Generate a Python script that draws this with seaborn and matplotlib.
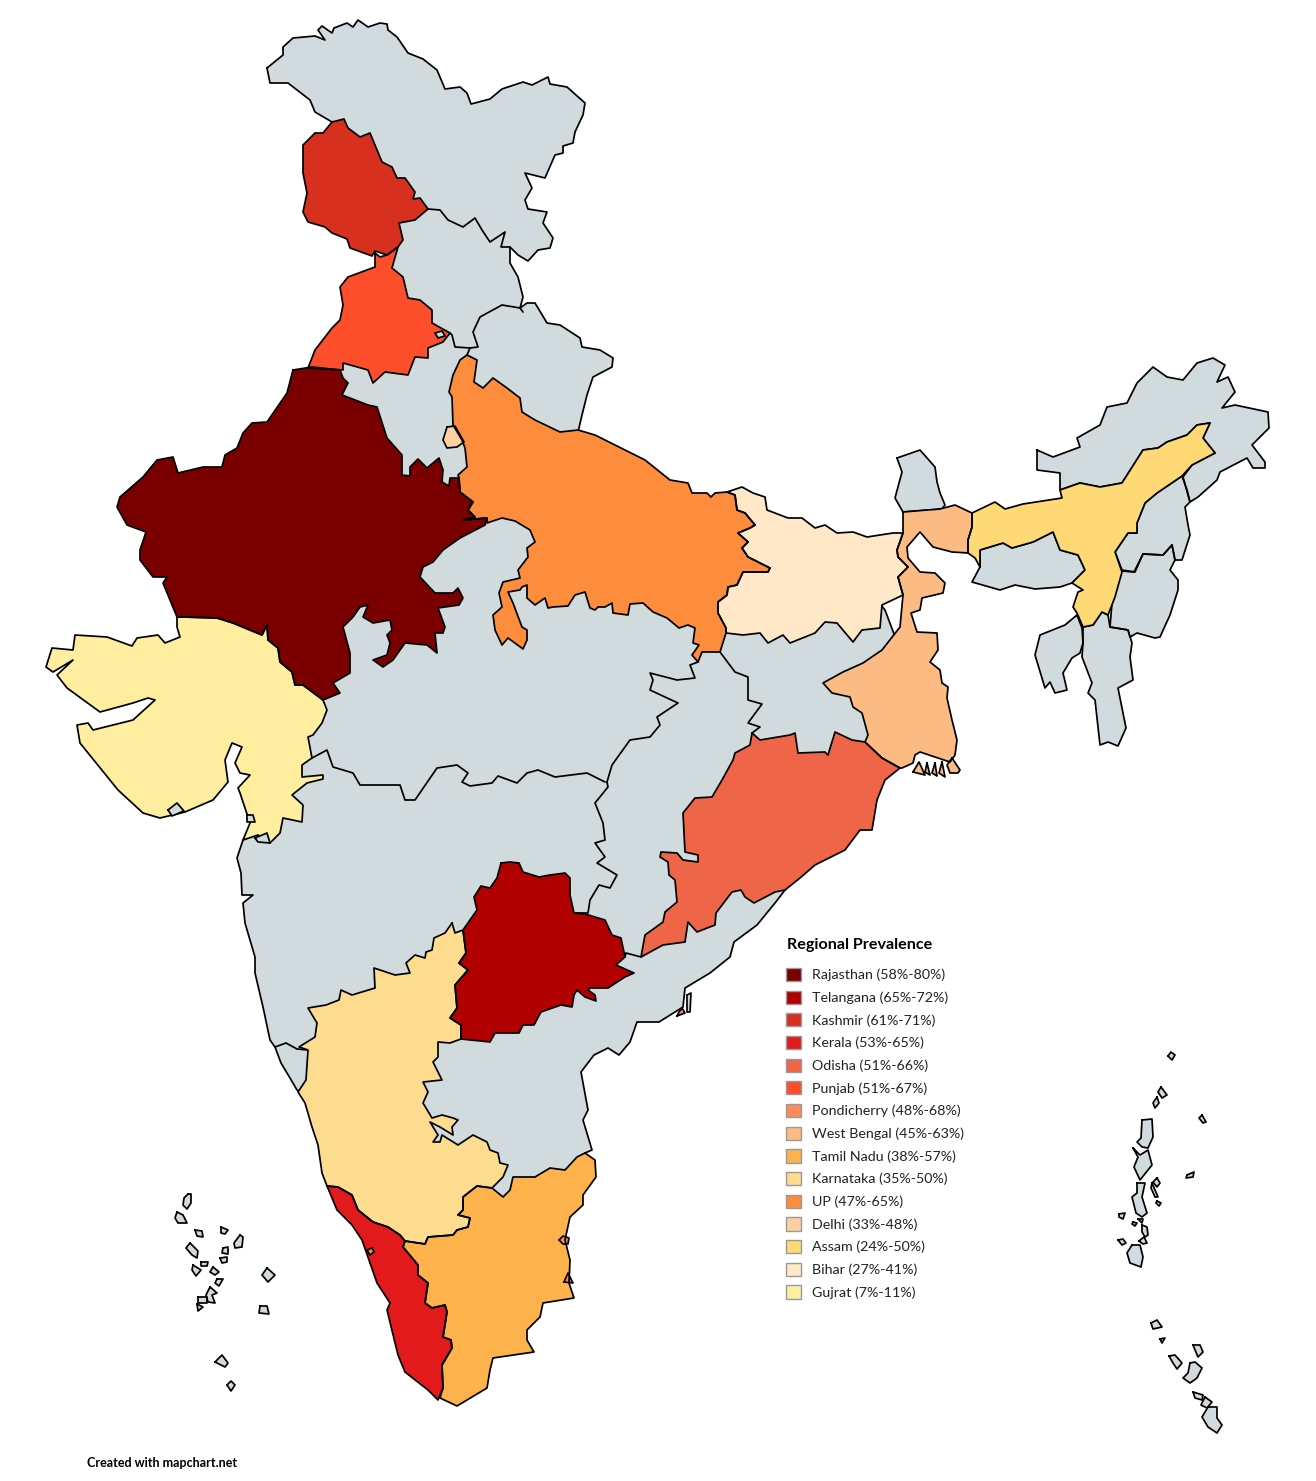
import pandas as pd
import matplotlib
matplotlib.use("Agg")
import matplotlib.pyplot as plt
from matplotlib.patches import Patch
import seaborn as sns

# Legend entries
legend_names = ["Rajasthan (58%-80%)", "Telangana (65%-72%)", "Kashmir (61%-71%)", "Kerala (53%-65%)",
                "Odisha (51%-66%)", "Punjab (51%-67%)", "Pondicherry (48%-68%)", "West Bengal (45%-63%)",
                "Tamil Nadu (38%-57%)", "Karnataka (35%-50%)", "UP (47%-65%)", "Delhi (33%-48%)",
                "Assam (24%-50%)", "Bihar (27%-41%)", "Gujrat (7%-11%)"]
legend_colors = ["#7a0000", "#b00000", "#d7301f", "#e31a1c", "#ef6548", "#fc4e2a", "#fc8d59", "#fdbb84",
                 "#feb24c", "#fddc8f", "#fd8d3c", "#fdd0a2", "#fed976", "#fee8c8", "#ffeda0"]
GREY = "#d1dbdd"

# The grey mainland runs under the coloured states, only the coast shows.
mainland = [(267,68),(283,55),(283,47),(293,38),(315,36),(325,40),(318,30),(322,26),(332,33),(334,28),(347,23),(353,27),(358,20),(368,27),(380,23),(387,24),(388,30),(397,37),(408,53),(423,59),(437,70),(445,89),(460,87),(467,93),(471,104),(490,99),(502,89),(523,82),(532,85),(548,77),(550,84),(567,87),(585,103),(583,115),(575,132),(573,143),(563,146),(563,153),(555,155),(545,178),(525,173),(532,188),(525,200),(528,209),(547,212),(543,223),(553,238),(550,248),(538,250),(528,261),(518,255),(510,247),(510,263),(518,277),(523,297),(520,308),(527,303),(535,303),(547,323),(560,325),(580,338),(582,347),(600,350),(613,358),(612,367),(593,377),(587,395),(582,415),(578,432),(640,480),(700,510),(760,560),(860,580),(885,610),(900,650),(890,720),(860,770),(840,830),(785,890),(775,903),(757,925),(734,942),(730,957),(710,973),(685,988),(683,1007),(659,1022),(637,1022),(630,1042),(619,1055),(608,1048),(594,1055),(581,1072),(588,1110),(583,1120),(592,1150),(585,1153),(540,1200),(420,1200),(340,1140),(320,1100),(297,1090),(290,1078),(281,1063),(275,1047),(270,1040),(263,1007),(255,973),(255,957),(245,923),(243,903),(253,895),(242,895),(241,873),(237,858),(243,840),(270,820),(290,720),(300,640),(330,400),(340,340),(380,300),(385,262),(385,235),(360,180),(340,125),(332,122),(315,112),(310,100),(288,83),(270,83)]

# Borders between two grey states
border_jk_himachal = [(428,209),(440,210),(448,220),(463,227),(475,218),(482,230),(490,242),(505,232),(501,247),(510,247)]
border_himachal_south = [(523,312),(520,308),(502,305),(480,317),(473,332),(478,347),(470,348),(455,347),(452,335),(450,333)]
border_uttarakhand = [(470,348),(467,355)]
border_mp_maharashtra = [(312,758),(327,750),(333,767),(353,773),(360,785),(400,785),(405,800),(415,800),(437,768),(457,765),(468,773),(462,782),(470,786),(492,783),(498,776),(517,783),(527,773),(538,770),(555,777),(587,773),(605,782)]
border_mp_chhattisgarh = [(607,782),(612,765),(630,740),(650,737),(660,725),(657,717),(678,703),(665,697),(650,690),(653,680),(650,673),(677,680),(695,678),(690,665),(698,662)]
border_chhattisgarh_jharkhand = [(720,652),(735,672),(748,677),(748,700),(762,704),(748,723),(760,727),(752,733)]
border_maharashtra_chhattisgarh = [(607,782),(608,787),(595,803),(603,823),(605,840),(595,843),(605,857),(597,863),(617,875),(610,888),(599,885),(590,900),(588,913),(574,913)]
border_chhattisgarh_andhra = [(625,957),(626,953),(641,957)]
border_goa = [(275,1047),(286,1043),(297,1049),(308,1050)]

# North east, grey states
sikkim = [(897,458),(920,450),(935,467),(937,482),(940,493),(945,505),(942,509),(903,512),(895,498),(902,472)]
arunachal = [(1037,450),(1053,457),(1080,447),(1077,438),(1100,425),(1107,407),(1127,403),(1137,383),(1153,367),(1167,377),(1183,380),(1197,363),(1213,358),(1225,365),(1217,382),(1228,377),(1235,392),(1222,408),(1235,405),(1268,412),(1269,428),(1252,445),(1265,462),(1265,468),(1253,468),(1247,458),(1220,472),(1217,480),(1198,497),(1190,502),(1183,477),(1192,465),(1215,453),(1203,438),(1210,423),(1197,425),(1187,435),(1167,442),(1158,448),(1143,450),(1122,483),(1100,487),(1080,483),(1060,490),(1060,473),(1037,470)]
meghalaya = [(980,550),(1003,543),(1012,548),(1033,542),(1053,532),(1060,550),(1078,555),(1085,570),(1072,583),(1060,587),(1035,589),(1015,585),(1000,590),(972,582),(980,567)]
nagaland = [(1145,503),(1157,493),(1182,476),(1187,490),(1190,502),(1185,507),(1188,525),(1190,535),(1182,560),(1175,560),(1172,545),(1163,555),(1143,554),(1135,572),(1122,570),(1115,552),(1128,533),(1137,533),(1137,523)]
manipur = [(1143,554),(1163,555),(1172,545),(1175,560),(1170,570),(1178,580),(1178,590),(1170,615),(1160,637),(1155,638),(1137,633),(1130,637),(1128,630),(1110,627),(1112,603),(1117,583),(1122,571),(1134,572)]
tripura = [(1077,615),(1082,628),(1083,643),(1080,653),(1072,658),(1063,673),(1067,690),(1055,693),(1050,682),(1045,688),(1035,655),(1040,635),(1065,625)]
mizoram = [(1083,627),(1093,625),(1102,612),(1108,615),(1110,627),(1128,630),(1132,643),(1130,657),(1133,680),(1118,688),(1126,728),(1118,746),(1108,742),(1100,745),(1095,700),(1088,693),(1092,683),(1082,657),(1083,643)]

# Coloured states
kashmir = [(332,122),(344,119),(348,128),(360,137),(370,133),(375,145),(382,162),(392,167),(397,178),(405,178),(415,192),(413,199),(420,198),(428,209),(415,220),(399,223),(403,240),(398,247),(387,255),(375,251),(372,256),(350,248),(347,239),(332,233),(325,227),(308,222),(303,212),(307,193),(303,173),(303,145),(315,133),(323,133)]
punjab = [(375,253),(380,257),(387,255),(398,247),(392,268),(403,277),(408,298),(420,300),(432,310),(432,323),(450,333),(443,342),(428,348),(428,358),(415,357),(408,375),(385,372),(373,383),(368,370),(343,363),(343,370),(308,368),(315,350),(332,328),(340,320),(343,305),(340,287),(348,277),(375,267)]
delhi = [(447,427),(455,426),(464,442),(457,447),(447,448),(443,440)]
uttar_pradesh = [(467,355),(477,360),(474,382),(483,388),(493,378),(507,388),(520,398),(522,412),(535,420),(560,432),(578,430),(595,435),(625,450),(645,460),(670,480),(688,483),(692,493),(707,493),(711,497),(715,493),(727,492),(735,495),(737,510),(745,513),(755,525),(750,528),(738,533),(748,542),(742,548),(748,557),(770,568),(768,572),(743,572),(737,585),(728,587),(727,595),(718,602),(718,613),(726,628),(726,633),(720,652),(702,652),(698,662),(692,655),(699,645),(693,643),(695,628),(688,625),(679,628),(667,618),(653,612),(643,603),(630,604),(628,615),(613,613),(612,603),(605,607),(598,607),(595,610),(590,608),(585,592),(575,595),(568,606),(553,607),(548,608),(545,598),(535,605),(527,598),(527,585),(522,587),(520,590),(508,592),(513,603),(522,627),(527,630),(527,640),(523,649),(508,638),(502,645),(495,630),(493,615),(502,607),(499,593),(503,582),(520,578),(518,570),(528,557),(527,548),(535,542),(530,530),(515,521),(502,518),(487,523),(487,518),(463,520),(475,517),(468,510),(473,502),(460,492),(459,478),(458,475),(467,467),(465,448),(462,440),(453,425),(452,397),(449,392),(453,375),(460,360)]
rajasthan = [(293,370),(312,367),(340,370),(343,378),(348,383),(342,395),(368,405),(377,407),(387,438),(402,455),(402,475),(410,476),(410,467),(418,459),(427,468),(439,458),(443,470),(442,482),(449,486),(450,478),(459,478),(460,492),(473,502),(468,510),(475,517),(463,520),(487,518),(485,525),(460,538),(443,550),(433,562),(423,567),(420,577),(435,593),(453,593),(458,588),(463,598),(459,605),(438,608),(445,627),(443,633),(435,633),(437,653),(427,645),(405,643),(393,660),(383,667),(373,660),(387,655),(390,643),(387,635),(392,630),(390,620),(373,623),(363,617),(368,605),(360,607),(353,617),(343,627),(350,653),(350,673),(333,683),(340,693),(323,700),(303,685),(295,685),(292,672),(280,662),(278,648),(268,640),(267,625),(262,635),(233,623),(217,618),(183,617),(177,617),(163,583),(167,577),(153,577),(140,560),(140,550),(146,532),(127,525),(117,507),(120,497),(143,477),(157,460),(173,457),(178,473),(203,467),(222,467),(225,455),(237,448),(243,433),(252,423),(267,422),(287,393)]
gujarat = [(177,617),(183,617),(217,618),(233,623),(262,635),(267,625),(268,640),(278,648),(280,662),(292,672),(295,685),(303,685),(323,700),(327,710),(322,723),(313,735),(308,737),(312,758),(302,765),(302,777),(323,775),(323,779),(307,783),(292,795),(303,805),(302,822),(283,818),(280,833),(270,843),(258,835),(243,840),(250,823),(240,793),(238,788),(250,775),(240,773),(235,763),(242,747),(232,743),(225,760),(228,782),(213,800),(185,812),(160,818),(143,813),(118,790),(80,743),(77,725),(88,723),(93,730),(133,720),(155,700),(148,698),(133,703),(100,712),(67,688),(57,675),(73,660),(53,672),(46,667),(52,648),(73,650),(75,635),(107,637),(132,646),(137,638),(158,635),(165,643),(180,637),(177,627)]
telangana = [(501,863),(510,862),(519,863),(523,872),(539,877),(550,875),(565,873),(570,878),(570,895),(574,913),(585,914),(605,920),(612,935),(621,938),(625,957),(616,965),(634,973),(625,977),(608,988),(590,988),(588,990),(595,995),(596,1001),(585,997),(577,990),(574,995),(572,1007),(561,1005),(541,1012),(534,1025),(523,1025),(519,1033),(495,1033),(490,1042),(461,1039),(461,1025),(450,1018),(457,1008),(455,985),(468,970),(459,963),(466,953),(463,930),(477,910),(474,897),(481,886),(490,888),(497,878)]
karnataka = [(452,923),(455,933),(463,930),(466,953),(459,963),(468,970),(455,985),(457,1008),(450,1018),(461,1025),(461,1039),(450,1043),(438,1042),(438,1057),(433,1062),(442,1080),(423,1082),(428,1092),(423,1103),(432,1118),(442,1115),(453,1118),(458,1120),(452,1127),(453,1135),(440,1127),(430,1122),(438,1135),(433,1142),(440,1142),(442,1135),(458,1145),(473,1135),(487,1142),(490,1150),(498,1153),(500,1163),(508,1165),(503,1177),(492,1188),(477,1186),(463,1197),(463,1210),(458,1215),(470,1218),(468,1227),(457,1230),(453,1235),(428,1237),(425,1244),(405,1241),(400,1235),(388,1227),(373,1222),(358,1210),(352,1195),(338,1187),(327,1186),(322,1173),(318,1145),(312,1127),(305,1103),(298,1092),(306,1080),(308,1050),(299,1047),(315,1037),(317,1023),(308,1008),(326,1005),(339,1000),(341,990),(352,995),(375,988),(374,968),(395,975),(410,973),(406,963),(415,955),(425,958),(426,952),(432,950),(434,938),(445,933)]
kerala = [(327,1186),(338,1187),(352,1195),(358,1210),(373,1222),(388,1227),(400,1235),(405,1241),(403,1247),(418,1265),(418,1275),(428,1283),(425,1303),(432,1308),(445,1305),(447,1312),(443,1337),(451,1340),(452,1348),(442,1365),(443,1388),(438,1400),(428,1390),(405,1372),(398,1355),(387,1310),(390,1303),(377,1283),(362,1240),(352,1225),(337,1210)]
tamil_nadu = [(585,1153),(595,1160),(596,1177),(583,1195),(583,1205),(570,1217),(565,1240),(570,1260),(569,1283),(574,1298),(543,1303),(540,1317),(527,1330),(527,1340),(534,1352),(493,1358),(490,1370),(487,1388),(457,1406),(440,1398),(443,1388),(442,1365),(452,1348),(451,1340),(443,1337),(447,1312),(445,1305),(432,1308),(425,1303),(428,1283),(418,1275),(418,1265),(403,1247),(405,1241),(425,1244),(428,1237),(453,1235),(457,1230),(468,1227),(470,1218),(458,1215),(463,1210),(463,1197),(477,1186),(492,1188),(503,1197),(510,1190),(513,1177),(535,1177),(550,1168),(565,1170),(577,1157)]
odisha = [(752,733),(760,740),(790,735),(795,733),(798,753),(825,752),(828,755),(835,732),(852,740),(865,742),(882,758),(900,768),(885,780),(877,800),(872,830),(860,830),(845,850),(815,865),(800,878),(785,890),(775,892),(754,903),(745,897),(741,890),(732,892),(716,913),(715,925),(697,932),(688,922),(685,942),(663,945),(641,957),(645,935),(663,922),(665,912),(677,902),(675,880),(669,875),(668,862),(660,857),(661,852),(677,853),(683,860),(698,862),(698,855),(685,852),(683,813),(695,798),(712,797),(722,780),(733,760),(735,753),(750,745)]
west_bengal = [(903,512),(940,509),(955,505),(972,513),(972,527),(968,540),(968,553),(952,552),(933,547),(920,532),(907,547),(908,558),(920,572),(935,573),(945,583),(943,593),(922,598),(920,610),(911,613),(917,632),(937,633),(938,650),(930,662),(940,670),(942,683),(948,687),(947,698),(952,720),(957,740),(955,755),(950,762),(920,752),(915,755),(913,763),(902,768),(900,768),(882,758),(865,742),(868,735),(862,713),(853,707),(850,697),(832,693),(823,683),(843,672),(863,663),(882,650),(900,627),(903,595),(898,577),(908,567),(898,557),(897,550),(903,533)]
bihar = [(727,492),(742,487),(753,493),(765,497),(767,510),(788,518),(802,518),(815,528),(825,525),(837,533),(853,532),(867,537),(893,533),(903,533),(897,550),(898,557),(908,567),(898,577),(903,595),(882,605),(880,628),(862,630),(853,642),(837,623),(825,622),(815,633),(790,643),(783,635),(768,643),(760,633),(743,635),(726,633),(726,628),(718,613),(718,602),(727,595),(728,587),(737,585),(743,572),(768,572),(770,568),(748,557),(742,548),(748,542),(738,533),(750,528),(755,525),(745,513),(737,510),(735,495)]
assam = [(972,513),(995,502),(1005,509),(1023,504),(1062,498),(1060,490),(1080,483),(1100,487),(1122,483),(1143,450),(1158,448),(1167,442),(1187,435),(1197,425),(1210,423),(1203,438),(1215,453),(1192,465),(1182,476),(1157,493),(1145,503),(1137,523),(1137,533),(1128,533),(1115,552),(1122,572),(1115,597),(1108,615),(1102,612),(1093,625),(1083,627),(1077,613),(1073,607),(1078,592),(1083,590),(1072,583),(1085,570),(1078,555),(1060,550),(1053,532),(1033,542),(1012,548),(1003,543),(980,550),(980,567),(975,558),(968,553),(968,540),(972,527)]

# Small bits on top of the states
chandigarh = [(435,333),(442,331),(445,336),(438,338)]
diu = [(168,810),(177,803),(184,811),(172,816)]
dadra = [(247,815),(253,815),(255,822),(247,822)]
daman = [(255,838),(267,833),(270,843),(258,842)]
coringa = [(687,995),(691,993),(690,1012),(687,1012)]
yanam = [(677,1016),(685,1013),(682,1008),(679,1012)]
mahe = [(367,1250),(372,1248),(374,1252),(370,1255)]
karaikal = [(559,1240),(563,1236),(569,1238),(568,1244),(563,1244)]
puducherry = [(564,1282),(568,1273),(573,1283)]
sundarbans = [[(913,772),(919,762),(925,775)],[(927,763),(930,775),(925,772)],[(935,763),(937,776),(932,773)],[(942,762),(945,777),(939,773)],[(952,758),(960,770),(958,773),(950,773),(947,765)]]

lakshadweep = [[(188,1194),(191,1194),(191,1203),(187,1209),(183,1205),(184,1198)],[(177,1212),(183,1215),(187,1223),(178,1223),(175,1218)],[(195,1230),(202,1231),(203,1237),(197,1236)],[(221,1227),(228,1230),(225,1234),(221,1233)],[(240,1235),(243,1237),(242,1247),(235,1248),(234,1243)],[(190,1243),(198,1251),(197,1258),(192,1255),(186,1248)],[(223,1248),(228,1247),(228,1254),(222,1253)],[(220,1258),(227,1257),(227,1262),(222,1263)],[(201,1262),(208,1262),(207,1266),(201,1266)],[(193,1265),(201,1270),(196,1276),(192,1270)],[(213,1267),(219,1272),(215,1275),(210,1272)],[(217,1279),(223,1279),(219,1286),(215,1283)],[(210,1287),(217,1293),(212,1295),(215,1303),(208,1302),(206,1295)],[(198,1297),(207,1297),(207,1303),(198,1303)],[(197,1304),(203,1307),(198,1311)],[(267,1268),(275,1275),(268,1282),(262,1275)],[(260,1306),(267,1306),(269,1314),(259,1313)],[(215,1362),(222,1355),(228,1363),(225,1367)],[(227,1385),(231,1381),(235,1385),(231,1391)]]
andaman = [[(1168,1056),(1171,1052),(1175,1055),(1172,1060)],[(1161,1087),(1167,1095),(1162,1098),(1158,1092)],[(1157,1097),(1159,1103),(1155,1108),(1153,1103)],[(1202,1115),(1206,1122),(1203,1123),(1199,1118)],[(1142,1120),(1152,1119),(1153,1137),(1148,1148),(1142,1147),(1137,1142),(1141,1138)],[(1133,1148),(1140,1155),(1148,1150),(1152,1165),(1140,1180),(1134,1167),(1138,1157)],[(1137,1183),(1145,1183),(1142,1197),(1147,1213),(1142,1217),(1136,1213),(1132,1197),(1137,1193)],[(1152,1183),(1158,1197),(1155,1197),(1151,1188)],[(1157,1178),(1160,1183),(1157,1187),(1153,1182)],[(1187,1175),(1194,1172),(1193,1177),(1186,1178)],[(1157,1201),(1161,1203),(1159,1206),(1156,1203)],[(1119,1214),(1125,1213),(1123,1219),(1119,1217)],[(1133,1222),(1137,1223),(1135,1226),(1132,1224)],[(1138,1219),(1143,1219),(1142,1223)],[(1142,1225),(1147,1227),(1148,1235),(1145,1237),(1142,1232)],[(1139,1241),(1144,1237),(1147,1243),(1143,1244)],[(1118,1240),(1123,1239),(1126,1243),(1122,1245)],[(1132,1245),(1140,1245),(1143,1257),(1141,1267),(1130,1263),(1127,1253)]]
nicobar = [[(1151,1323),(1157,1320),(1162,1327),(1153,1329)],[(1160,1339),(1165,1338),(1162,1343)],[(1193,1345),(1200,1345),(1203,1352),(1198,1357)],[(1169,1356),(1175,1355),(1182,1363),(1177,1369),(1173,1363)],[(1190,1363),(1195,1362),(1202,1368),(1197,1378),(1190,1383),(1183,1378),(1188,1373)],[(1193,1392),(1203,1395),(1202,1400),(1195,1398)],[(1205,1397),(1212,1402),(1207,1408),(1201,1405)],[(1208,1407),(1217,1407),(1217,1418),(1222,1425),(1217,1433),(1208,1427),(1202,1417)]]

grey_shapes = [mainland, sikkim, arunachal, meghalaya, nagaland, manipur, tripura, mizoram] + lakshadweep + andaman + nicobar
grey_borders = [border_jk_himachal, border_himachal_south, border_uttarakhand, border_mp_maharashtra,
                border_mp_chhattisgarh, border_chhattisgarh_jharkhand, border_maharashtra_chhattisgarh,
                border_chhattisgarh_andhra, border_goa]
color_shapes = [(gujarat, 14), (rajasthan, 0), (kashmir, 2), (punjab, 5), (delhi, 11), (uttar_pradesh, 10),
                (telangana, 1), (karnataka, 9), (kerala, 3), (tamil_nadu, 8), (odisha, 4), (west_bengal, 7),
                (bihar, 13), (assam, 12), (mahe, 6), (karaikal, 6), (puducherry, 6), (yanam, 6)]
color_shapes += [(part, 7) for part in sundarbans]
top_grey = [chandigarh, diu, dadra, daman, coringa]


def outline_table(parts, closed=True):
    rows = []
    for i, part in enumerate(parts):
        pts = part + part[:1] if closed else part
        for p in pts:
            rows.append({"x": p[0], "y": p[1], "part": i})
    return pd.DataFrame(rows)


def draw_outlines(df, z):
    sns.lineplot(data=df, x="x", y="y", units="part", estimator=None, sort=False, color="black",
                 linewidth=1.25, ax=ax, zorder=z, legend=False)


sns.set_theme(style="white")
plt.rcParams['font.family'] = ['Lato', 'DejaVu Sans']

fig = plt.figure(figsize=(13.16, 14.81), dpi=100)
ax = fig.add_axes([0, 0, 1, 1])

# Grey layer
for part in grey_shapes:
    ax.fill([p[0] for p in part], [p[1] for p in part], color=GREY, lw=0, zorder=1)
draw_outlines(outline_table(grey_shapes), 2)
draw_outlines(outline_table(grey_borders, closed=False), 2)

# Coloured layer
for part, idx in color_shapes:
    ax.fill([p[0] for p in part], [p[1] for p in part], color=legend_colors[idx], lw=0, zorder=3)
draw_outlines(outline_table([c[0] for c in color_shapes]), 4)

# Small enclaves
for part in top_grey:
    ax.fill([p[0] for p in part], [p[1] for p in part], color=GREY, lw=0, zorder=5)
draw_outlines(outline_table(top_grey), 6)

ax.set_xlim(0, 1316)
ax.set_ylim(1481, 0)
ax.axis("off")

handles = [Patch(facecolor=c, edgecolor="#999999", lw=1) for c in legend_colors]
leg = ax.legend(handles, legend_names, loc="upper left", bbox_to_anchor=(783 / 1316, 1 - 965 / 1481),
                frameon=False, fontsize=10.3, handlelength=1.05, handleheight=1.05, handletextpad=0.75,
                labelspacing=0.64, borderpad=0.2, borderaxespad=0)
for t in leg.get_texts():
    t.set_color("#222222")

ax.text(787, 945, "Regional Prevalence", fontsize=11.6, fontweight="bold", va="center", color="black")
ax.text(87, 1463, "Created with mapchart.net", fontsize=9, fontweight="bold", va="center", color="black")

fig.savefig("out.png", dpi=100)
